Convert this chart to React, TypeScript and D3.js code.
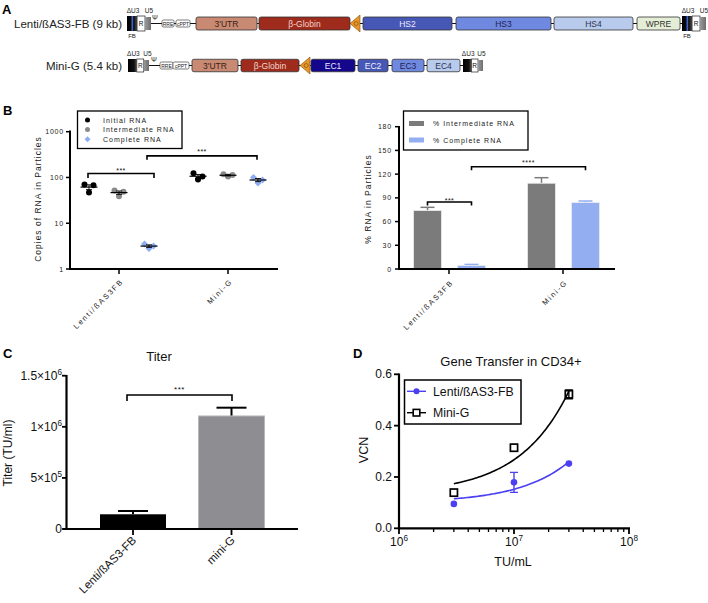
import React from "react";
import * as d3 from "d3";

const FONT = '"Liberation Sans", Arial, Helvetica, sans-serif';

// ---------------- Panel A data ----------------
const constructLabels = ["Lenti/ßAS3-FB (9 kb)", "Mini-G (5.4 kb)"];
const row1Names = ["LTR", "Ψ", "RRE", "cPPT", "3'UTR", "β-Globin", "ins", "HS2", "HS3", "HS4", "WPRE", "LTR"];
const row1Lens = [24, 0, 12, 14, 61, 91, 10, 89, 95, 79, 43, 24];
const row1Gaps = [0, 4, 7, 2, 6, 2, 0, 3, 4, 3, 4, 2];
const row2Names = ["LTR", "Ψ", "RRE", "cPPT", "3'UTR", "β-Globin", "ins", "EC1", "EC2", "EC3", "EC4", "LTR"];
const row2Lens = [21, 0, 13, 16, 46, 58, 10, 44, 30, 32, 33, 20];
const row2Gaps = [0, 5, 6, 0, 3, 3, 1, 1, 3, 4, 3, 3];

const elemFill: Record<string, string> = {
  "3'UTR": "#c98a74",
  "β-Globin": "#9e2b1b",
  HS2: "#4757b6",
  HS3: "#7089e0",
  HS4: "#b9cbec",
  WPRE: "#e4edd6",
  EC1: "#15078c",
  EC2: "#4757b6",
  EC3: "#7089e0",
  EC4: "#b9cbec",
};
const elemTextColor: Record<string, string> = {
  "3'UTR": "#3b1c12",
  "β-Globin": "#f3d6cf",
  HS2: "#e8ebff",
  HS3: "#1d2350",
  HS4: "#2d3550",
  WPRE: "#333",
  EC1: "#e8e8ff",
  EC2: "#eef0ff",
  EC3: "#1d2350",
  EC4: "#2d3550",
};

// ---------------- Panel B data ----------------
const bCats = ["Lenti/ßAS3FB", "Mini-G"];
const bSeries = ["Initial RNA", "Intermediate RNA", "Complete RNA"];
const initialRNA = [
  [70, 68, 47],
  [124, 105, 90],
];
const intermediateRNA = [
  [52, 49, 39],
  [117, 113, 105],
];
const completeRNA = [
  [3.5, 3.2, 2.8],
  [100, 88, 76],
];
const bLogTicks = [1, 10, 100, 1000];

const pctSeries = ["% Intermediate RNA", "% Complete RNA"];
const pctIntermediate = [74, 108.5];
const pctIntermediateErr = [4, 7];
const pctComplete = [4.5, 84];
const pctCompleteErr = [1.3, 2];
const pctTicks = [0, 30, 60, 90, 120, 150, 180];

// ---------------- Panel C data ----------------
const cCats = ["Lenti/ßAS3-FB", "mini-G"];
const titer = [1.44e5, 1.106e6];
const titerErr = [0.32e5, 0.81e5];
const titerTicks = [
  { v: 0, base: "0", exp: "" },
  { v: 5e5, base: "5×10", exp: "5" },
  { v: 1e6, base: "1×10", exp: "6" },
  { v: 1.5e6, base: "1.5×10", exp: "6" },
];

// ---------------- Panel D data ----------------
const doses = [3e6, 1e7, 3e7];
const lentiVCN = [0.095, 0.179, 0.252];
const lentiVCNErr = [0, 0.039, 0];
const miniVCN = [0.139, 0.314, 0.522];
const miniVCNErr = [0, 0, 0.017];
const vcnTicks = [0, 0.2, 0.4, 0.6];
const doseMajor = [1e6, 1e7, 1e8];

// ---------------- helpers ----------------
function Construct({ names, lens, gaps, x0, cy, h, ltrH, fb, label }: any) {
  const total = d3.sum(lens) + d3.sum(gaps);
  const x = d3.scaleLinear().domain([0, total]).range([x0, x0 + total]);
  let pos = 0;
  const items = names.map((n: string, i: number) => {
    pos += gaps[i];
    const s = pos;
    pos += lens[i];
    return { name: n, s: x(s), e: x(pos), i };
  });
  const first = items[0];
  const last = items[items.length - 1];
  return (
    <g>
      <text x={122} y={cy + 4} textAnchor="end" fontSize={11.5} fill="#222">{label}</text>
      <line x1={first.e} x2={last.s} y1={cy} y2={cy} stroke="#111" strokeWidth={1.1} />
      {items.map((it: any) => {
        const w = it.e - it.s;
        if (it.name === "LTR") {
          const bw = w * 0.42, rw = w * 0.33, gw = w - bw - rw;
          const top = cy - ltrH / 2;
          return (
            <g key={it.i}>
              <rect x={it.s} y={top} width={bw} height={ltrH} fill="url(#gradBlack)" />
              {fb && <rect x={it.s + bw * 0.45} y={top} width={1.6} height={ltrH} fill="#3d63d6" />}
              <rect x={it.s + bw} y={top} width={rw} height={ltrH} fill="#fff" stroke="#222" strokeWidth={0.7} />
              <text x={it.s + bw + rw / 2} y={cy + 2.5} textAnchor="middle" fontSize={6.5} fill="#111">R</text>
              <rect x={it.s + bw + rw} y={top + 1} width={gw} height={ltrH - 2} fill="url(#gradGrey)" />
              <text x={it.s + bw / 2 + 1} y={top - 3} textAnchor="middle" fontSize={6.5} fill="#222">ΔU3</text>
              <text x={it.s + bw + rw + gw / 2 + 1} y={top - 3} textAnchor="middle" fontSize={6.5} fill="#222">U5</text>
              {fb && <text x={it.s + bw / 2} y={top + ltrH + 7} textAnchor="middle" fontSize={6} fill="#222">FB</text>}
            </g>
          );
        }
        if (it.name === "Ψ") {
          return <text key={it.i} x={it.s} y={cy - 4} textAnchor="middle" fontSize={7} fill="#222">Ψ</text>;
        }
        if (it.name === "RRE" || it.name === "cPPT") {
          return (
            <g key={it.i}>
              <rect x={it.s} y={cy - 3.5} width={w} height={7} rx={1.5} fill="#fff" stroke="#444" strokeWidth={0.7} />
              <text x={it.s + w / 2} y={cy + 2} textAnchor="middle" fontSize={5} fill="#222">{it.name}</text>
            </g>
          );
        }
        if (it.name === "ins") {
          return (
            <g key={it.i}>
              <polygon
                points={`${it.s},${cy} ${it.e},${cy - 8.5} ${it.e},${cy + 8.5}`}
                fill="#e8952a"
                stroke="#7a4d10"
                strokeWidth={0.6}
              />
              <circle cx={it.s + w * 0.62} cy={cy} r={2} fill="none" stroke="#7a4d10" strokeWidth={0.6} />
            </g>
          );
        }
        return (
          <g key={it.i}>
            <rect x={it.s} y={cy - h / 2} width={w} height={h} rx={2} fill={elemFill[it.name]} stroke="#333" strokeWidth={0.8} />
            <text x={it.s + w / 2} y={cy + 3} textAnchor="middle" fontSize={8.5} fill={elemTextColor[it.name]}>{it.name}</text>
          </g>
        );
      })}
    </g>
  );
}

function SupText({ x, y, base, exp, anchor = "end", size = 11, ls = 0 }: any) {
  return (
    <text x={x} y={y} textAnchor={anchor} fontSize={size} fill="#111" letterSpacing={ls}>
      {base}
      {exp && (
        <tspan dy={-size * 0.42} fontSize={size * 0.68}>{exp}</tspan>
      )}
    </text>
  );
}

function Diamond({ x, y, r, fill }: any) {
  return <polygon points={`${x},${y - r} ${x + r},${y} ${x},${y + r} ${x - r},${y}`} fill={fill} />;
}

function Bracket({ x1, x2, y, drop, label, ly, size = 7 }: any) {
  return (
    <g>
      <path d={`M${x1},${y + drop} V${y} H${x2} V${y + drop}`} fill="none" stroke="#000" strokeWidth={1.6} />
      <text x={(x1 + x2) / 2} y={ly} textAnchor="middle" fontSize={size} fill="#111" letterSpacing={0.5}>{label}</text>
    </g>
  );
}

const seriesColor = ["#000000", "#8a8a8a", "#8eadf2"];
const XL_SIZE = 7.5;
const XL_LS = 1.7;

function PanelBLeft() {
  const y = d3.scaleLog().domain([1, 1000]).range([269, 131.7]);
  const x = d3.scalePoint().domain(bCats).range([119, 228]);
  const off = d3.scalePoint().domain(bSeries).range([-30, 30]);
  const data = [initialRNA, intermediateRNA, completeRNA];
  const jitter = [-4.5, 4.5, 0];
  return (
    <g fontFamily={FONT}>
      <text x={3} y={115} fontSize={13} fontWeight="bold">B</text>
      <line x1={70} x2={70} y1={130.5} y2={270} stroke="#000" strokeWidth={2} />
      <line x1={69} x2={278} y1={269} y2={269} stroke="#000" strokeWidth={2} />
      {bLogTicks.map((t) => (
        <g key={t}>
          <line x1={66} x2={70} y1={y(t)} y2={y(t)} stroke="#000" strokeWidth={1.5} />
          <text x={64} y={y(t) + 2.5} textAnchor="end" fontSize={7} letterSpacing={0.8} fill="#222">{t}</text>
        </g>
      ))}
      {bCats.map((c) => (
        <g key={c}>
          <line x1={x(c)} x2={x(c)} y1={269} y2={274} stroke="#000" strokeWidth={1.5} />
          <text transform={`translate(${x(c)! + 5},${282}) rotate(-45)`} textAnchor="end" fontSize={XL_SIZE} letterSpacing={XL_LS} fill="#222">{c}</text>
        </g>
      ))}
      <text transform={`translate(41,199) rotate(-90)`} textAnchor="middle" fontSize={8.5} letterSpacing={1} fill="#222">Copies of RNA in Particles</text>
      {bSeries.map((s, si) =>
        bCats.map((c, ci) => {
          const vals = data[si][ci];
          const cx = x(c)! + off(s)!;
          const m = d3.mean(vals)!;
          const sem = d3.deviation(vals)! / Math.sqrt(vals.length);
          return (
            <g key={s + c}>
              {vals.map((v, k) =>
                si === 2 ? (
                  <Diamond key={k} x={cx + jitter[k]} y={y(v)} r={3.5} fill={seriesColor[si]} />
                ) : (
                  <circle key={k} cx={cx + jitter[k]} cy={y(v)} r={3} fill={seriesColor[si]} />
                )
              )}
              <line x1={cx - 8.5} x2={cx + 8.5} y1={y(m)} y2={y(m)} stroke="#000" strokeWidth={1.2} />
              <path d={`M${cx},${y(m - sem)} V${y(m + sem)} M${cx - 3},${y(m + sem)} H${cx + 3} M${cx - 3},${y(m - sem)} H${cx + 3}`} stroke="#000" strokeWidth={0.9} fill="none" />
            </g>
          );
        })
      )}
      <Bracket x1={x(bCats[0])! + off(bSeries[0])! - 1} x2={x(bCats[0])! + off(bSeries[2])! + 5} y={y(122)} drop={4.5} label="***" ly={y(122) - 1} />
      <Bracket x1={x(bCats[0])! + off(bSeries[2])! - 2} x2={x(bCats[1])! + off(bSeries[2])! - 1} y={y(297)} drop={4} label="***" ly={y(297) - 2} />
      <rect x={77.5} y={111} width={104.5} height={37.5} fill="#fff" stroke="#000" strokeWidth={1.3} />
      {bSeries.map((s, i) => (
        <g key={s}>
          {i === 2 ? (
            <Diamond x={87.5} y={120 + i * 9.6} r={3} fill={seriesColor[i]} />
          ) : (
            <circle cx={87.5} cy={120 + i * 9.6} r={2.5} fill={seriesColor[i]} />
          )}
          <text x={103} y={122.5 + i * 9.6} fontSize={7} letterSpacing={1} fill="#222">{s}</text>
        </g>
      ))}
    </g>
  );
}

function PanelBRight() {
  const y = d3.scaleLinear().domain([0, 180]).range([269, 126.7]);
  const x = d3.scalePoint().domain(bCats).range([449, 563]);
  const off = d3.scalePoint().domain(pctSeries).range([-21.5, 22.5]);
  const vals = [pctIntermediate, pctComplete];
  const errs = [pctIntermediateErr, pctCompleteErr];
  const colors = ["#7b7b7b", "#93aff2"];
  const bw = 28;
  return (
    <g fontFamily={FONT}>
      {pctSeries.map((s, si) =>
        bCats.map((c, ci) => {
          const cx = x(c)! + off(s)!;
          const v = vals[si][ci];
          const e = errs[si][ci];
          return (
            <g key={s + c}>
              <line x1={cx} x2={cx} y1={y(v)} y2={y(v + e)} stroke={colors[si]} strokeWidth={1.5} />
              <line x1={cx - 7} x2={cx + 7} y1={y(v + e)} y2={y(v + e)} stroke={colors[si]} strokeWidth={1.5} />
              <rect x={cx - bw / 2} y={y(v)} width={bw} height={269 - y(v)} fill={colors[si]} stroke="#ececec" strokeWidth={0.8} />
            </g>
          );
        })
      )}
      <line x1={399} x2={399} y1={126} y2={270} stroke="#000" strokeWidth={2} />
      <line x1={398} x2={615} y1={269} y2={269} stroke="#000" strokeWidth={2} />
      {pctTicks.map((t) => (
        <g key={t}>
          <line x1={395} x2={399} y1={y(t)} y2={y(t)} stroke="#000" strokeWidth={1.5} />
          <text x={392} y={y(t) + 2.5} textAnchor="end" fontSize={7} letterSpacing={0.8} fill="#222">{t}</text>
        </g>
      ))}
      {bCats.map((c) => (
        <g key={c}>
          <line x1={x(c)} x2={x(c)} y1={269} y2={274} stroke="#000" strokeWidth={1.5} />
          <text transform={`translate(${x(c)! + 5},${283}) rotate(-45)`} textAnchor="end" fontSize={XL_SIZE} letterSpacing={XL_LS} fill="#222">{c}</text>
        </g>
      ))}
      <text transform={`translate(371,199) rotate(-90)`} textAnchor="middle" fontSize={8.5} letterSpacing={1} fill="#222">% RNA in Particles</text>
      <Bracket x1={x(bCats[0])! + off(pctSeries[0])!} x2={x(bCats[0])! + off(pctSeries[1])!} y={y(84.7)} drop={3.5} label="***" ly={y(84.7) + 1} />
      <Bracket x1={x(bCats[0])! + off(pctSeries[1])!} x2={x(bCats[1])! + off(pctSeries[1])!} y={y(129.4)} drop={3.5} label="****" ly={y(129.4) - 2} />
      <rect x={403.5} y={111} width={124.5} height={39} fill="#fff" stroke="#000" strokeWidth={1.3} />
      {pctSeries.map((s, i) => (
        <g key={s}>
          <rect x={409} y={121 + i * 16.5} width={15} height={5} fill={colors[i]} />
          <text x={433} y={126 + i * 16.5} fontSize={7} letterSpacing={1} fill="#222">{s}</text>
        </g>
      ))}
    </g>
  );
}

function PanelC() {
  const y = d3.scaleLinear().domain([0, 1.5e6]).range([529, 375.7]);
  const x = d3.scalePoint().domain(cCats).range([133, 231.5]);
  const colors = ["#000000", "#8e8e92"];
  const bw = 66;
  return (
    <g fontFamily={FONT}>
      <text x={3} y={358} fontSize={13} fontWeight="bold">C</text>
      <text x={159} y={361} textAnchor="middle" fontSize={13} fill="#111">Titer</text>
      {cCats.map((c, i) => {
        const cx = x(c)!;
        return (
          <g key={c}>
            <line x1={cx} x2={cx} y1={y(titer[i])} y2={y(titer[i] + titerErr[i])} stroke="#000" strokeWidth={2} />
            <line x1={cx - 15} x2={cx + 15} y1={y(titer[i] + titerErr[i])} y2={y(titer[i] + titerErr[i])} stroke="#000" strokeWidth={2} />
            <rect x={cx - bw / 2} y={y(titer[i])} width={bw} height={529 - y(titer[i])} fill={colors[i]} stroke={i === 1 ? "#b8b8bc" : "none"} strokeWidth={1} />
          </g>
        );
      })}
      <line x1={66.5} x2={66.5} y1={375} y2={530} stroke="#000" strokeWidth={2.2} />
      <line x1={63} x2={298} y1={529} y2={529} stroke="#000" strokeWidth={2.2} />
      {titerTicks.map((t) => (
        <g key={t.v}>
          <line x1={62} x2={66.5} y1={y(t.v)} y2={y(t.v)} stroke="#000" strokeWidth={1.8} />
          <SupText x={62} y={y(t.v) + 4} base={t.base} exp={t.exp} size={12} />
        </g>
      ))}
      {cCats.map((c) => (
        <g key={c}>
          <line x1={x(c)} x2={x(c)} y1={529} y2={535} stroke="#000" strokeWidth={1.8} />
          <text transform={`translate(${x(c)! + 4},${541}) rotate(-45)`} textAnchor="end" fontSize={11.5} fill="#111">{c}</text>
        </g>
      ))}
      <text transform={`translate(12,453) rotate(-90)`} textAnchor="middle" fontSize={12} fill="#111">Titer (TU/ml)</text>
      <Bracket x1={127} x2={232} y={y(1.311e6)} drop={6} label="***" ly={y(1.311e6) - 3} size={8} />
    </g>
  );
}

function linreg(xs: number[], ys: number[]) {
  const mx = d3.mean(xs)!;
  const my = d3.mean(ys)!;
  const sxy = d3.sum(xs, (v, i) => (v - mx) * (ys[i] - my));
  const sxx = d3.sum(xs, (v) => (v - mx) * (v - mx));
  const b = sxy / sxx;
  return { a: my - b * mx, b };
}

function PanelD() {
  const x = d3.scaleLog().domain([1e6, 1e8]).range([399, 629]);
  const y = d3.scaleLinear().domain([0, 0.6]).range([528.3, 374.3]);
  const fitL = linreg(doses, lentiVCN);
  const fitM = linreg(doses, miniVCN);
  const lo = Math.log10(doses[0]);
  const hi = Math.log10(doses[doses.length - 1]);
  const samples = d3.range(0, 61).map((i) => Math.pow(10, lo + ((hi - lo) * i) / 60));
  const pathL = d3.line<number>().x((d) => x(d)).y((d) => y(fitL.a + fitL.b * d))(samples);
  const pathM = d3.line<number>().x((d) => x(d)).y((d) => y(fitM.a + fitM.b * d))(samples);
  const minor: number[] = [];
  [1e6, 1e7].forEach((dec) => {
    for (let k = 2; k <= 9; k++) minor.push(k * dec);
  });
  const blue = "#4b3ff2";
  return (
    <g fontFamily={FONT}>
      <text x={353} y={358} fontSize={13} fontWeight="bold">D</text>
      <text x={511} y={366} textAnchor="middle" fontSize={13} fill="#111">Gene Transfer in CD34+</text>
      <line x1={399} x2={399} y1={373.5} y2={529.5} stroke="#000" strokeWidth={2.2} />
      <line x1={398} x2={630} y1={528.3} y2={528.3} stroke="#000" strokeWidth={2.2} />
      {vcnTicks.map((t) => (
        <g key={t}>
          <line x1={394} x2={399} y1={y(t)} y2={y(t)} stroke="#000" strokeWidth={1.8} />
          <text x={392} y={y(t) + 4} textAnchor="end" fontSize={12} fill="#111">{t.toFixed(1)}</text>
        </g>
      ))}
      {doseMajor.map((t) => (
        <g key={t}>
          <line x1={x(t)} x2={x(t)} y1={528.3} y2={534} stroke="#000" strokeWidth={1.8} />
          <SupText x={x(t)} y={546} base="10" exp={String(Math.round(Math.log10(t)))} anchor="middle" size={12} />
        </g>
      ))}
      {minor.map((t) => (
        <line key={t} x1={x(t)} x2={x(t)} y1={528.3} y2={532} stroke="#000" strokeWidth={1.3} />
      ))}
      <text x={513} y={566} textAnchor="middle" fontSize={12.5} fill="#111">TU/mL</text>
      <text transform={`translate(368,450) rotate(-90)`} textAnchor="middle" fontSize={12.5} fill="#111">VCN</text>
      <path d={pathM!} fill="none" stroke="#000" strokeWidth={1.6} />
      <path d={pathL!} fill="none" stroke={blue} strokeWidth={1.6} />
      {doses.map((d, i) => (
        <g key={"l" + d}>
          {lentiVCNErr[i] > 0 && (
            <path d={`M${x(d)},${y(lentiVCN[i] - lentiVCNErr[i])} V${y(lentiVCN[i] + lentiVCNErr[i])} M${x(d) - 4},${y(lentiVCN[i] + lentiVCNErr[i])} H${x(d) + 4} M${x(d) - 4},${y(lentiVCN[i] - lentiVCNErr[i])} H${x(d) + 4}`} stroke={blue} strokeWidth={1.4} fill="none" />
          )}
          <circle cx={x(d)} cy={y(lentiVCN[i])} r={3.3} fill={blue} />
        </g>
      ))}
      {doses.map((d, i) => (
        <g key={"m" + d}>
          {miniVCNErr[i] > 0 && (
            <path d={`M${x(d)},${y(miniVCN[i] - miniVCNErr[i])} V${y(miniVCN[i] + miniVCNErr[i])} M${x(d) - 4},${y(miniVCN[i] + miniVCNErr[i])} H${x(d) + 4} M${x(d) - 4},${y(miniVCN[i] - miniVCNErr[i])} H${x(d) + 4}`} stroke="#000" strokeWidth={1.4} fill="none" />
          )}
          <rect x={x(d) - 3.6} y={y(miniVCN[i]) - 3.6} width={7.2} height={7.2} fill="none" stroke="#000" strokeWidth={1.7} />
        </g>
      ))}
      <rect x={404.5} y={380} width={116.5} height={44} fill="#fff" stroke="#000" strokeWidth={1.5} />
      <line x1={407} x2={426} y1={391.3} y2={391.3} stroke={blue} strokeWidth={1.4} />
      <circle cx={416.5} cy={391.3} r={3} fill={blue} />
      <text x={433} y={395.5} fontSize={12.3} fill="#111">Lenti/ßAS3-FB</text>
      <line x1={407} x2={426} y1={412.7} y2={412.7} stroke="#000" strokeWidth={1.4} />
      <rect x={413.2} y={409.4} width={6.6} height={6.6} fill="#fff" stroke="#000" strokeWidth={1.6} />
      <text x={433} y={417} fontSize={12.3} fill="#111">Mini-G</text>
    </g>
  );
}

export default function App() {
  return (
    <svg
      width={708}
      height={603}
      viewBox="0 0 708 603"
      style={{ position: "absolute", left: 0, top: 0, background: "#fff" }}
      fontFamily={FONT}
    >
      <defs>
        <linearGradient id="gradBlack" x1="0" x2="1" y1="0" y2="0">
          <stop offset="0" stopColor="#000" />
          <stop offset="0.7" stopColor="#111" />
          <stop offset="1" stopColor="#555" />
        </linearGradient>
        <linearGradient id="gradGrey" x1="0" x2="1" y1="0" y2="0">
          <stop offset="0" stopColor="#9a9a9a" />
          <stop offset="1" stopColor="#6e6e6e" />
        </linearGradient>
      </defs>
      <rect x={0} y={0} width={708} height={603} fill="#fff" />
      <g fontFamily={FONT}>
        <text x={2} y={14} fontSize={13} fontWeight="bold">A</text>
        <Construct names={row1Names} lens={row1Lens} gaps={row1Gaps} x0={127} cy={23.5} h={13} ltrH={15} fb={true} label={constructLabels[0]} />
        <Construct names={row2Names} lens={row2Lens} gaps={row2Gaps} x0={128} cy={65.5} h={12.5} ltrH={13} fb={false} label={constructLabels[1]} />
      </g>
      <PanelBLeft />
      <PanelBRight />
      <PanelC />
      <PanelD />
    </svg>
  );
}
